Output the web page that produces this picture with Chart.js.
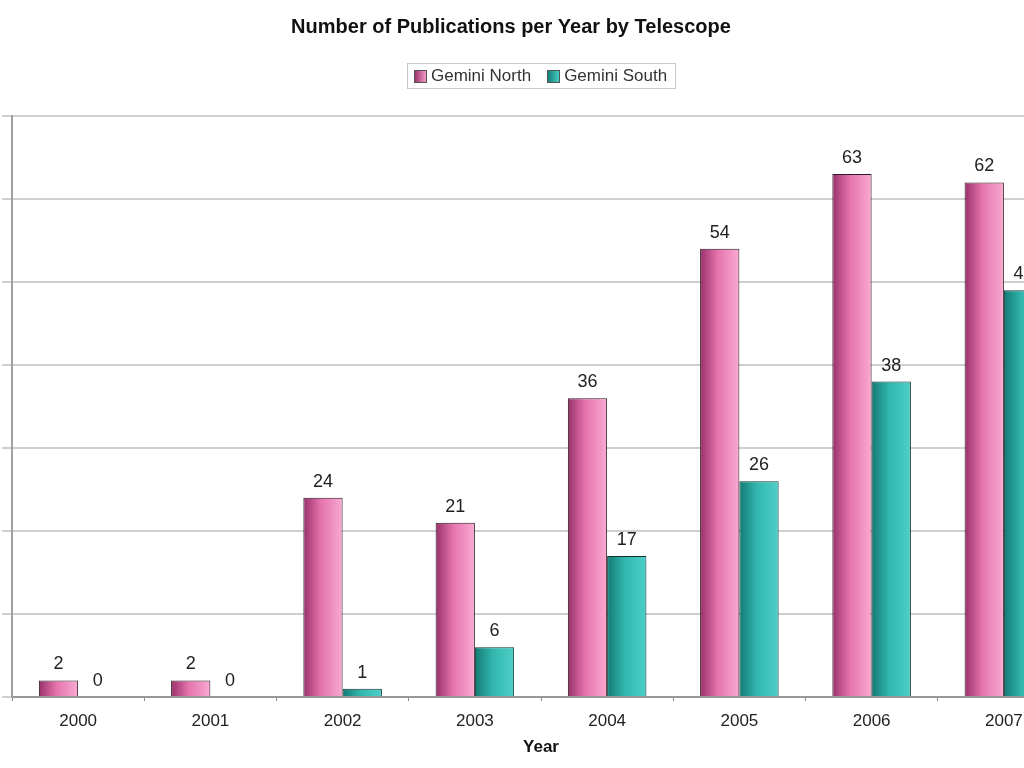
<!DOCTYPE html>
<html>
<head>
<meta charset="utf-8">
<script src="https://cdn.jsdelivr.net/npm/chart.js@4.4.1/dist/chart.umd.min.js"></script>
<style>
  html, body { margin: 0; padding: 0; background: #fff; overflow: hidden; width: 1024px; height: 768px; }
  #wrap { position: absolute; left: -60px; top: 0; width: 1144px; height: 768px; }
  #legend {
    position: absolute; left: 407px; top: 63px; width: 269px; height: 26px;
    border: 1px solid #c8c8c8; font-family: "Liberation Sans", Arial, sans-serif;
    font-size: 17px; color: #333; display: flex; align-items: center; box-sizing: border-box;
  }
  #legend span.sw { display: inline-block; width: 11px; height: 11px; border: 1px solid #555; margin: 0 4px 0 6px; }
  #legend span.t { margin-right: 6px; }
</style>
</head>
<body>
<div id="wrap"><canvas id="chart" width="1144" height="768"></canvas></div>
<div id="legend">
  <span class="sw" style="background: linear-gradient(to right, #9c356b, #f49ac8);"></span><span class="t">Gemini North</span>
  <span class="sw" style="margin-left: 10px; background: linear-gradient(to right, #17807a, #45cbc3);"></span><span class="t">Gemini South</span>
</div>
<script>
const years = ["2000", "2001", "2002", "2003", "2004", "2005", "2006", "2007"];
const geminiNorth = [2, 2, 24, 21, 36, 54, 63, 62];
const geminiSouth = [0, 0, 1, 6, 17, 26, 38, 49];
const yTicks = [0, 10, 20, 30, 40, 50, 60, 70];

const FONT = "'Liberation Sans', Arial, sans-serif";
const CAT_PCT = 0.594;

// horizontal gradient across each bar, position taken from the x scale
function barGradient(ctx, side, dark, mid, light) {
  const chart = ctx.chart;
  const xs = chart.scales.x;
  if (!xs || !chart.chartArea) return mid;
  const center = xs.getPixelForValue(ctx.dataIndex);
  const catW = xs.width / years.length;
  const barW = catW * CAT_PCT / 2;
  const x0 = side === 0 ? center - barW : center;
  const g = chart.ctx.createLinearGradient(x0, 0, x0 + barW, 0);
  g.addColorStop(0, dark);
  g.addColorStop(0.45, mid);
  g.addColorStop(1, light);
  return g;
}

const valueLabels = {
  id: "valueLabels",
  afterDatasetsDraw(chart) {
    const c = chart.ctx;
    c.save();
    c.font = "18px " + FONT;
    c.fillStyle = "#222";
    c.textAlign = "center";
    c.textBaseline = "middle";
    chart.data.datasets.forEach((ds, i) => {
      chart.getDatasetMeta(i).data.forEach((bar, j) => {
        c.fillText(String(ds.data[j]), bar.x, bar.y - 16);
      });
    });
    c.restore();
  }
};

new Chart(document.getElementById("chart"), {
  type: "bar",
  data: {
    labels: years,
    datasets: [
      {
        label: "Gemini North",
        data: geminiNorth,
        backgroundColor: ctx => barGradient(ctx, 0, "#98306a", "#e574ae", "#f9aad2"),
        borderColor: "#2a1822",
        borderWidth: 1,
        categoryPercentage: CAT_PCT,
        barPercentage: 1
      },
      {
        label: "Gemini South",
        data: geminiSouth,
        backgroundColor: ctx => barGradient(ctx, 1, "#137a74", "#32b6ae", "#4ed0c8"),
        borderColor: "#13302e",
        borderWidth: 1,
        categoryPercentage: CAT_PCT,
        barPercentage: 1
      }
    ]
  },
  options: {
    responsive: false,
    animation: false,
    layout: { padding: { left: 12, right: 14, top: 0, bottom: 0 } },
    plugins: {
      legend: { display: false },
      tooltip: { enabled: false },
      title: {
        display: true,
        text: "Number of Publications per Year by Telescope",
        color: "#111",
        font: { family: FONT, size: 20, weight: "bold" },
        padding: { top: 15, bottom: 77 }
      }
    },
    scales: {
      x: {
        offset: true,
        grid: { display: true, drawOnChartArea: false, offset: true, tickLength: 4, color: "#888", lineWidth: 1 },
        border: { color: "#999", width: 2 },
        ticks: { color: "#222", font: { family: FONT, size: 17 }, padding: 10, maxRotation: 0 },
        title: { display: true, text: "Year", color: "#111", font: { family: FONT, size: 17, weight: "bold" }, padding: { top: 4, bottom: 10 } },
        afterFit: s => { s.height = 71; }
      },
      y: {
        min: 0,
        max: 70,
        afterBuildTicks: s => { s.ticks = yTicks.map(v => ({ value: v })); },
        grid: { color: "#cfcfcf", lineWidth: 2, tickLength: 10 },
        border: { color: "#a0a0a0", width: 2 },
        ticks: { color: "#222", font: { family: FONT, size: 16 }, padding: 4 },
        afterFit: s => { s.width = 60; }
      }
    }
  },
  plugins: [valueLabels]
});
</script>
</body>
</html>
